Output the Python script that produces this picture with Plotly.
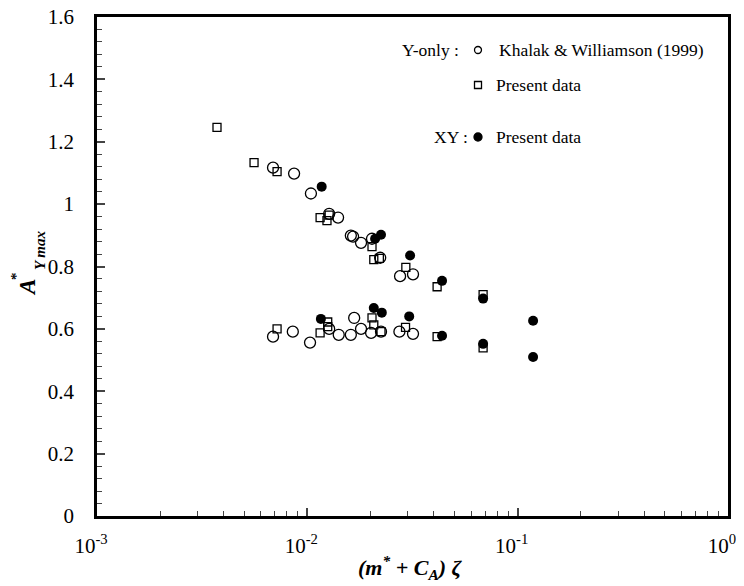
import plotly.graph_objects as go

# Khalak & Williamson (1999), Y-only (open circles)
kw_x = [0.00687, 0.00865, 0.0104, 0.0127, 0.0140, 0.0161, 0.0165, 0.0180, 0.0203, 0.0222, 0.0276, 0.0318,
        0.00687, 0.00853, 0.0103, 0.0127, 0.0141, 0.0161, 0.0167, 0.0180, 0.0201, 0.0224, 0.0274, 0.0318]
kw_y = [1.117, 1.098, 1.034, 0.969, 0.957, 0.899, 0.896, 0.876, 0.889, 0.828, 0.769, 0.775,
        0.575, 0.591, 0.556, 0.600, 0.581, 0.581, 0.635, 0.600, 0.587, 0.591, 0.591, 0.584]

# Present data, Y-only (open squares)
yo_x = [0.00372, 0.00558, 0.00718, 0.0115, 0.0124, 0.0127, 0.0203, 0.0207, 0.0220, 0.0294, 0.0414, 0.0685,
        0.00718, 0.0115, 0.0125, 0.0125, 0.0203, 0.0207, 0.0224, 0.0293, 0.0414, 0.0685]
yo_y = [1.246, 1.133, 1.104, 0.957, 0.947, 0.965, 0.864, 0.822, 0.826, 0.797, 0.735, 0.710,
        0.600, 0.587, 0.622, 0.607, 0.635, 0.613, 0.591, 0.605, 0.575, 0.539]

# Present data, XY (filled circles)
xy_x = [0.0117, 0.0210, 0.0224, 0.0308, 0.0437, 0.0685, 0.1184,
        0.0116, 0.0207, 0.0226, 0.0305, 0.0437, 0.0685, 0.1184]
xy_y = [1.056, 0.889, 0.902, 0.835, 0.754, 0.697, 0.626,
        0.632, 0.667, 0.652, 0.640, 0.578, 0.552, 0.510]

x_tickvals = [0.001, 0.01, 0.1, 1]
x_ticktext = ["10<sup>-3</sup>", "10<sup>-2</sup>", "10<sup>-1</sup>", "10<sup>0</sup>"]
y_tickvals = [0, 0.2, 0.4, 0.6, 0.8, 1.0, 1.2, 1.4, 1.6]
y_ticktext = ["0", "0.2", "0.4", "0.6", "0.8", "1", "1.2", "1.4", "1.6"]

FONT = "Liberation Serif, Times New Roman, serif"

fig = go.Figure()
fig.add_trace(go.Scatter(x=kw_x, y=kw_y, mode="markers",
                         marker=dict(symbol="circle-open", size=11, color="black", line=dict(width=1.3))))
fig.add_trace(go.Scatter(x=yo_x, y=yo_y, mode="markers",
                         marker=dict(symbol="square-open", size=8, color="black", line=dict(width=1.3))))
fig.add_trace(go.Scatter(x=xy_x, y=xy_y, mode="markers",
                         marker=dict(symbol="circle", size=10, color="black")))

# page body has an 8px margin; size the figure to fit the window
OFF = 8
W, H = 744 - OFF, 586 - OFF
L, T = 97 - OFF, 17 - OFF
pw, ph = 631, 499
R, B = W - L - pw, H - T - ph


def px(sx):
    return (sx - OFF - L) / pw


def py(sy):
    return (H - B - (sy - OFF)) / ph


annots = []
# legend texts
annots.append(dict(x=px(461), y=py(50), text="Y-only :", xanchor="right", yanchor="middle"))
annots.append(dict(x=px(497), y=py(50), text="Khalak &amp; Williamson (1999)", xanchor="left", yanchor="middle"))
annots.append(dict(x=px(494), y=py(85), text="Present data", xanchor="left", yanchor="middle"))
annots.append(dict(x=px(470), y=py(137), text="XY :", xanchor="right", yanchor="middle"))
annots.append(dict(x=px(494), y=py(137), text="Present data", xanchor="left", yanchor="middle"))
for a in annots:
    a.update(xref="paper", yref="paper", showarrow=False, font=dict(family=FONT, size=17.5, color="black"))

# axis titles
annots.append(dict(x=px(410), y=py(567), xref="paper", yref="paper", showarrow=False,
                   text="<b><i>(m<sup>*</sup> + C<sub>A</sub>) ζ</i></b>",
                   font=dict(family=FONT, size=22, color="black"), xanchor="center", yanchor="middle"))
annots.append(dict(x=px(27), y=py(288), xref="paper", yref="paper", showarrow=False, textangle=-90,
                   text="<b><i>A</i></b>", font=dict(family=FONT, size=23, color="black"),
                   xanchor="center", yanchor="middle"))
annots.append(dict(x=px(16), y=py(276), xref="paper", yref="paper", showarrow=False, textangle=-90,
                   text="<b>*</b>", font=dict(family=FONT, size=15, color="black"),
                   xanchor="center", yanchor="middle"))
annots.append(dict(x=px(40), y=py(250), xref="paper", yref="paper", showarrow=False, textangle=-90,
                   text="<b><i>Y max</i></b>", font=dict(family=FONT, size=15, color="black"),
                   xanchor="center", yanchor="middle"))

shapes = []
for (cx, cy, kind) in [(478, 50, "circ"), (478, 85, "sq"), (478, 137, "fill")]:
    s = dict(xref="paper", yref="paper", xsizemode="pixel", ysizemode="pixel",
             xanchor=px(cx), yanchor=py(cy), x0=-3.5, x1=3.5, y0=-3.5, y1=3.5,
             line=dict(color="black", width=1.3))
    if kind == "circ":
        s.update(type="circle")
    elif kind == "sq":
        s.update(type="rect")
    else:
        s.update(type="circle", fillcolor="black", x0=-4, x1=4, y0=-4, y1=4)
    shapes.append(s)

fig.update_layout(
    width=W, height=H,
    margin=dict(l=L, r=R, t=T, b=B, autoexpand=False),
    paper_bgcolor="white", plot_bgcolor="white",
    showlegend=False,
    font=dict(family=FONT, size=21, color="black"),
    annotations=annots, shapes=shapes,
)
fig.update_xaxes(type="log", range=[-3, 0], tickvals=x_tickvals, ticktext=x_ticktext,
                 ticks="inside", ticklen=8, tickwidth=1.5, showgrid=False, zeroline=False,
                 showline=True, linewidth=2.5, linecolor="black", mirror=True, automargin=False,
                 ticklabeloverflow="allow", ticklabelstandoff=9, ticklabelshift=-6,
                 minor=dict(ticks="inside", ticklen=5, tickwidth=1.2, showgrid=False, dtick="D1"),
                 tickfont=dict(family=FONT, size=21))
fig.update_yaxes(range=[0, 1.6], tickvals=y_tickvals, ticktext=y_ticktext,
                 ticks="inside", ticklen=8, tickwidth=1.5, showgrid=False, zeroline=False,
                 showline=True, linewidth=2.5, linecolor="black", mirror=True, automargin=False,
                 ticklabeloverflow="allow", ticklabelstandoff=16,
                 minor=dict(ticks="inside", ticklen=5, tickwidth=1.2, showgrid=False, dtick=0.04),
                 tickfont=dict(family=FONT, size=21))

fig.write_html("out.html")
